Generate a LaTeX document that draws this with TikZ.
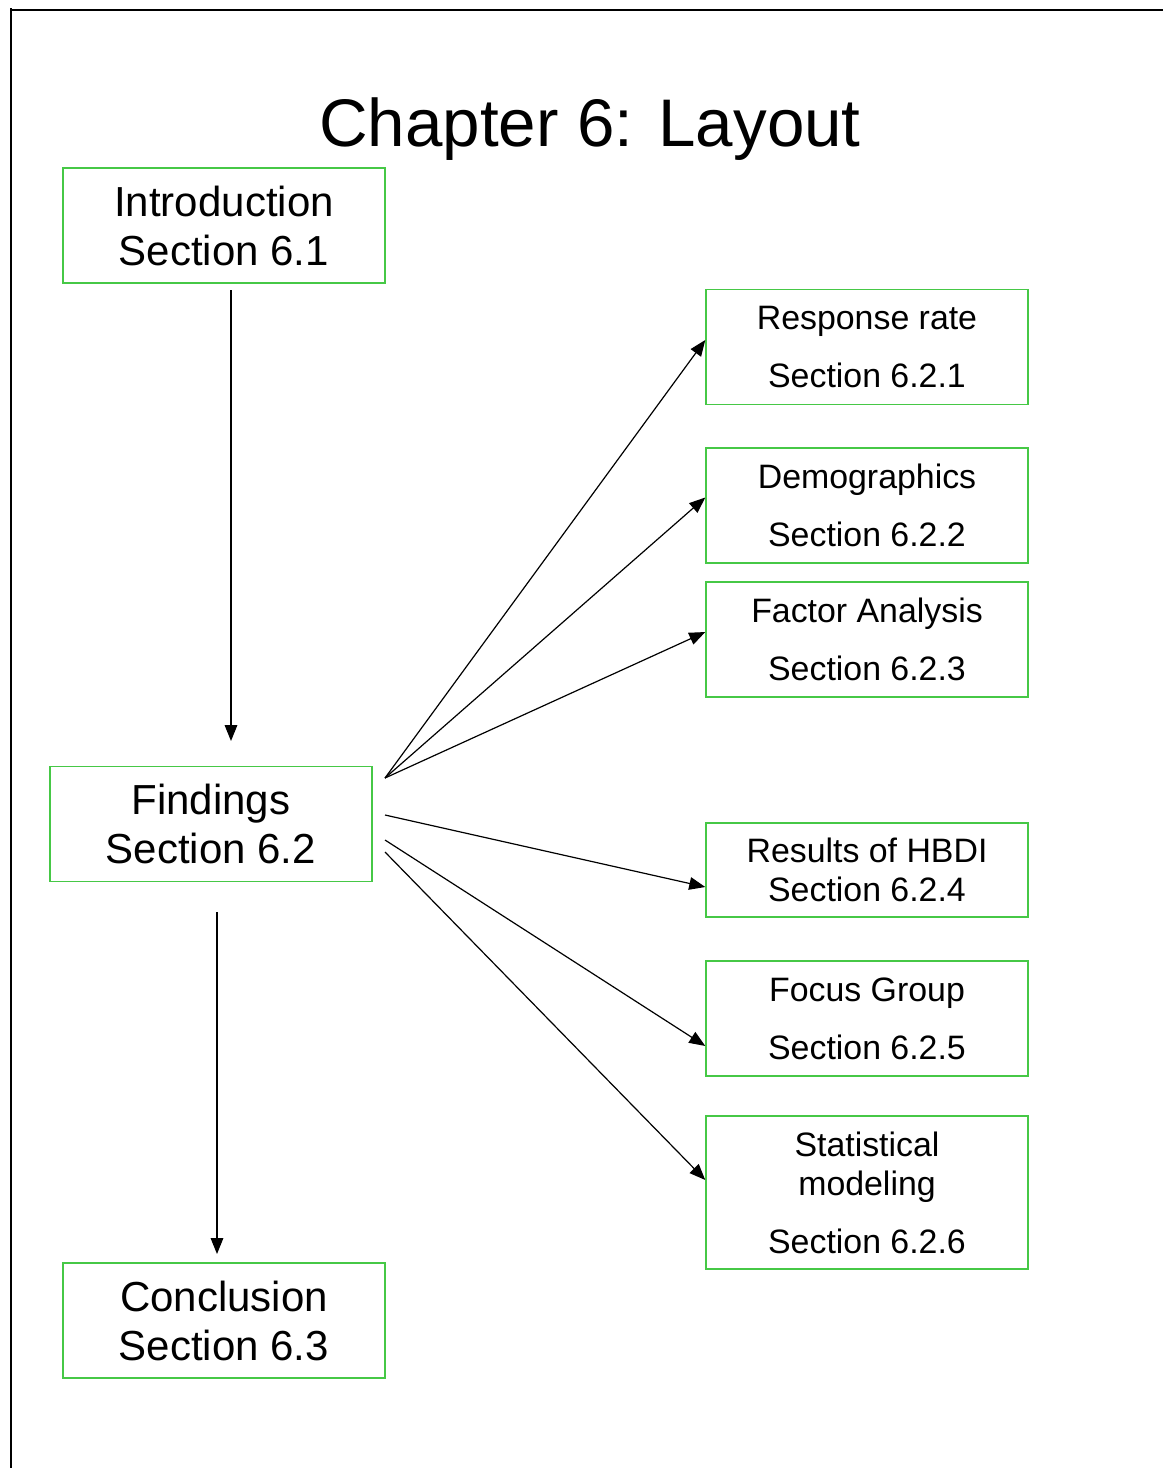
\documentclass[tikz,border=0pt]{standalone}
\usepackage{fontspec}
\setmainfont{Liberation Sans}
\usetikzlibrary{arrows.meta}
\definecolor{boxgreen}{RGB}{70,200,70}
\begin{document}
\begin{tikzpicture}[x=0.75pt,y=-0.75pt,
  bigbox/.style={draw=boxgreen,line width=1.1pt,minimum width=241.5pt,minimum height=86pt,inner sep=0pt,align=center,font=\fontsize{31.5}{36.75}\selectfont},
  smallbox/.style={draw=boxgreen,line width=1.1pt,minimum width=241.5pt,inner sep=0pt,align=center,font=\fontsize{25.4}{29.2}\selectfont},
  conn/.style={line width=0.9pt,-{Triangle[length=12pt,width=9.5pt]}}]
\useasboundingbox (0,0) rectangle (1166,1468);
% frame
\draw[line width=1.5pt] (10,10) -- (1163,10);
\draw[line width=1.5pt] (11,8) -- (11,1468);
% title
\node[font=\fontsize{50.5}{60}\selectfont] (title) at (590,129) {Chapter 6: Layout};
% left boxes
\node[bigbox] (intro) at (224,225.5) {Introduction\\Section 6.1};
\node[bigbox] (find) at (211,824) {Findings\\Section 6.2};
\node[bigbox] (conc) at (224,1320.5) {Conclusion\\Section 6.3};
% right boxes
\node[smallbox,minimum height=86pt] (rr) at (867,347) {Response rate\\[14.3pt]Section 6.2.1};
\node[smallbox,minimum height=86pt] (demo) at (867,505.5) {Demographics\\[14.3pt]Section 6.2.2};
\node[smallbox,minimum height=86pt] (fa) at (867,639.5) {Factor Analysis\\[14.3pt]Section 6.2.3};
\node[smallbox,minimum height=70.5pt] (hbdi) at (867,870) {Results of HBDI\\Section 6.2.4};
\node[smallbox,minimum height=86pt] (fg) at (867,1018.5) {Focus Group\\[14.3pt]Section 6.2.5};
\node[smallbox,minimum height=114.75pt] (sm) at (867,1192.5) {Statistical\\modeling\\[14.3pt]Section 6.2.6};
% connector start points
\coordinate (s1) at (231,290);
\coordinate (e1) at (231,741);
\coordinate (s2) at (217,912);
\coordinate (e2) at (217,1254);
\coordinate (fa1) at (385,778);
\coordinate (fa2) at (385,815);
\coordinate (fa3) at (385,840);
\coordinate (fa4) at (385,852);
% connectors
\draw[conn] (s1) -- (e1);
\draw[conn] (s2) -- (e2);
\draw[conn] (fa1) -- ([yshift=5.25pt]rr.west);
\draw[conn] (fa1) -- ([yshift=6pt]demo.west);
\draw[conn] (fa1) -- ([yshift=5.6pt]fa.west);
\draw[conn] (fa2) -- ([yshift=-12.75pt]hbdi.west);
\draw[conn] (fa3) -- ([yshift=-20.6pt]fg.west);
\draw[conn] (fa4) -- ([yshift=9.4pt]sm.west);
\end{tikzpicture}
\end{document}
